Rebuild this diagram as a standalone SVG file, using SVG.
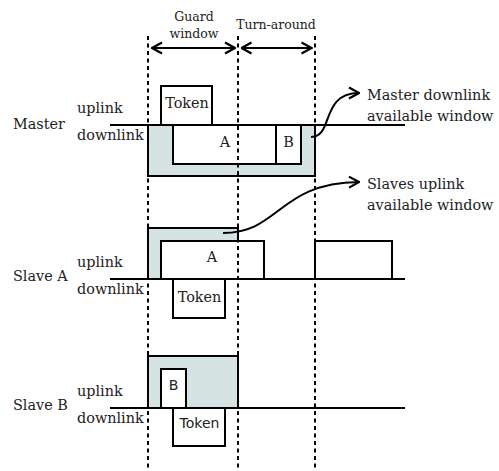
<svg xmlns="http://www.w3.org/2000/svg" width="499" height="471" viewBox="0 0 499 471">
<defs>
<style>
.t{font-family:"DejaVu Serif","Liberation Serif",serif;font-size:14.4px;fill:#222}
.h{font-family:"DejaVu Serif","Liberation Serif",serif;font-size:12.5px;fill:#222}
.s{font-family:"DejaVu Sans","Liberation Sans",sans-serif;font-size:14px;fill:#222}
.box{fill:#fff;stroke:#000;stroke-width:2}
.shade{fill:#d5e3e3;stroke:#000;stroke-width:2}
.ln{fill:none;stroke:#000;stroke-width:2}
.dash{fill:none;stroke:#000;stroke-width:2;stroke-dasharray:4 3.5}
</style>
<marker id="ah" viewBox="0 0 12 14" refX="11" refY="7" markerWidth="12" markerHeight="14" markerUnits="userSpaceOnUse" orient="auto-start-reverse">
<path d="M1 1.5 L11 7 L1 12.5" fill="none" stroke="#000" stroke-width="2.2"/>
</marker>
</defs>
<rect width="499" height="471" fill="#fff"/>

<g id="master">
<rect class="shade" x="148" y="125" width="167" height="51"/>
<rect class="box" x="173" y="125" width="103" height="39"/>
<rect class="box" x="276" y="125" width="25" height="39"/>
<rect class="box" x="161" y="86" width="51" height="39"/>
<line class="ln" x1="110" y1="125" x2="405" y2="125"/>
<text class="t" x="187" y="108" text-anchor="middle">Token</text>
<text class="t" x="225" y="147" text-anchor="middle">A</text>
<text class="t" x="288.5" y="147" text-anchor="middle">B</text>
<text class="t" x="13" y="129">Master</text>
<text class="t" x="77" y="113">uplink</text>
<text class="t" x="77" y="140">downlink</text>
</g>

<g id="slaveA">
<rect class="shade" x="148" y="228" width="90" height="51"/>
<rect class="box" x="161" y="241" width="103" height="38"/>
<rect class="box" x="315" y="241" width="77" height="38"/>
<rect class="box" x="173" y="279" width="52" height="39"/>
<line class="ln" x1="110" y1="279" x2="405" y2="279"/>
<text class="t" x="212" y="262" text-anchor="middle">A</text>
<text class="t" x="199.5" y="302" text-anchor="middle">Token</text>
<text class="t" x="13" y="281">Slave A</text>
<text class="t" x="77" y="267">uplink</text>
<text class="t" x="77" y="294">downlink</text>
</g>

<g id="slaveB">
<rect class="shade" x="148" y="356" width="90" height="52"/>
<rect class="box" x="161" y="369" width="25" height="39"/>
<rect class="box" x="173" y="408" width="52" height="38"/>
<line class="ln" x1="110" y1="408" x2="405" y2="408"/>
<text class="s" x="173.5" y="390" text-anchor="middle">B</text>
<text class="s" x="199.5" y="428" text-anchor="middle">Token</text>
<text class="t" x="13" y="410">Slave B</text>
<text class="t" x="77" y="396">uplink</text>
<text class="t" x="77" y="423">downlink</text>
</g>

<g id="annotations">
<text class="h" x="194" y="21" text-anchor="middle">Guard</text>
<text class="h" x="194" y="38" text-anchor="middle">window</text>
<text class="h" x="276" y="29" text-anchor="middle">Turn-around</text>
<text class="t" x="367" y="100">Master downlink</text>
<text class="t" x="367" y="121">available window</text>
<text class="t" x="367" y="189">Slaves uplink</text>
<text class="t" x="367" y="210">available window</text>
</g>

<g id="connectors">
<line class="dash" x1="148" y1="36" x2="148" y2="471"/>
<line class="dash" x1="238" y1="36" x2="238" y2="471"/>
<line class="dash" x1="315" y1="36" x2="315" y2="471"/>
<line class="ln" x1="152" y1="48" x2="235" y2="48" marker-start="url(#ah)" marker-end="url(#ah)"/>
<line class="ln" x1="241.5" y1="48" x2="311.5" y2="48" marker-start="url(#ah)" marker-end="url(#ah)"/>
<path class="ln" d="M311 137 C334 137 320 93 359 93" marker-end="url(#ah)"/>
<path class="ln" d="M223 233 C280 233 278 183 359 182" marker-end="url(#ah)"/>
</g>
</svg>
